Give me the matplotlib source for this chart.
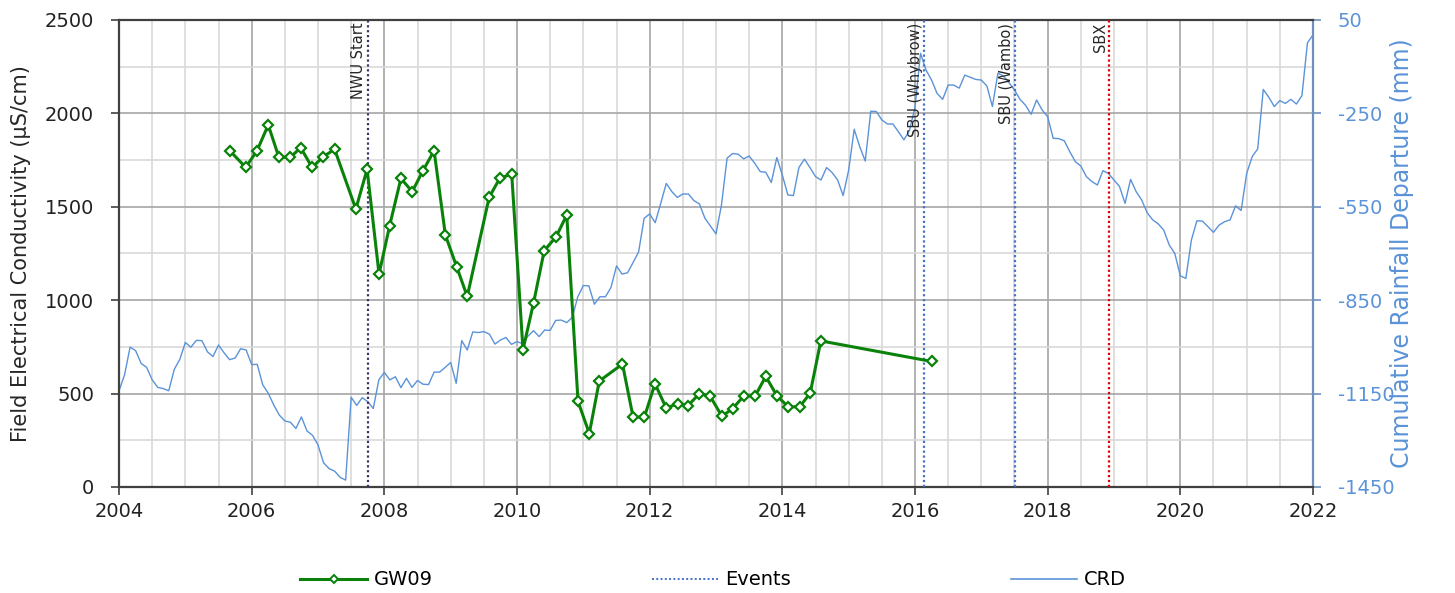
import numpy as np
import matplotlib
matplotlib.use("Agg")
import matplotlib.pyplot as plt
from matplotlib.ticker import MultipleLocator
from matplotlib.lines import Line2D
import matplotlib.transforms as mtransforms

plt.rcParams["axes.unicode_minus"] = False


# GW09 field EC samples (decimal year, uS/cm)
gw09_year = [2005.67, 2005.91, 2006.08, 2006.25, 2006.41, 2006.58, 2006.74, 2006.91,
             2007.08, 2007.25, 2007.57, 2007.74, 2007.92, 2008.08, 2008.25, 2008.42,
             2008.58, 2008.75, 2008.92, 2009.09, 2009.25, 2009.58, 2009.74, 2009.92,
             2010.09, 2010.25, 2010.41, 2010.59, 2010.75, 2010.92, 2011.09, 2011.24,
             2011.59, 2011.75, 2011.92, 2012.08, 2012.25, 2012.42, 2012.58, 2012.75,
             2012.91, 2013.09, 2013.25, 2013.42, 2013.59, 2013.75, 2013.92, 2014.09,
             2014.26, 2014.42, 2014.58, 2016.25]
gw09_ec = [1800, 1711, 1800, 1938, 1765, 1765, 1816, 1711,
           1768, 1808, 1488, 1700, 1140, 1399, 1652, 1581,
           1692, 1800, 1349, 1179, 1020, 1551, 1652, 1676,
           735, 986, 1265, 1340, 1456, 458, 286, 567,
           658, 374, 374, 553, 422, 446, 436, 500,
           487, 378, 420, 487, 487, 592, 487, 429,
           429, 502, 782, 672]

# cumulative rainfall departure, monthly from Jan 2004 to Jan 2022 (mm)
crd_start = 2004.0
crd_mm = [-1141, -1090, -1001, -1012, -1053, -1066, -1106, -1130, -1134, -1141, -1072, -1040,
          -986, -1001, -979, -980, -1016, -1031, -994, -1019, -1041, -1036, -1006, -1010,
          -1057, -1056, -1122, -1149, -1187, -1219, -1238, -1242, -1262, -1225, -1270, -1284,
          -1315, -1372, -1391, -1399, -1419, -1428, -1162, -1188, -1163, -1176, -1198, -1106,
          -1082, -1106, -1096, -1131, -1101, -1130, -1108, -1120, -1121, -1081, -1081, -1066,
          -1050, -1117, -980, -1010, -952, -954, -951, -959, -991, -978, -970, -992,
          -983, -990, -965, -948, -967, -946, -947, -915, -914, -922, -905, -839,
          -803, -804, -863, -839, -839, -809, -740, -766, -762, -729, -695, -587,
          -573, -601, -539, -475, -501, -520, -509, -509, -530, -541, -587, -612,
          -637, -543, -394, -379, -381, -396, -387, -410, -437, -439, -472, -392,
          -448, -512, -514, -424, -397, -424, -453, -464, -424, -440, -464, -514,
          -432, -301, -357, -403, -243, -244, -271, -284, -284, -309, -335, -305,
          -230, -57, -111, -143, -186, -205, -159, -159, -169, -127, -134, -141,
          -143, -162, -228, -121, -130, -151, -175, -205, -224, -253, -207, -239,
          -261, -330, -331, -338, -373, -405, -419, -453, -469, -480, -434, -443,
          -464, -485, -539, -462, -501, -528, -569, -592, -605, -625, -673, -700,
          -772, -780, -657, -595, -596, -614, -632, -609, -598, -592, -547, -562,
          -443, -389, -364, -173, -198, -228, -209, -218, -205, -220, -193, -23,
          2]

crd_ticks = [-1450, -1150, -850, -550, -250, 50]
crd_minor = [-1300, -1000, -700, -400, -100]

event_names = ["NWU Start", "SBU (Whybrow)", "SBU (Wambo)", "SBX"]
event_year = [2007.75, 2016.14, 2017.51, 2018.93]
event_colors = ["#3b3366", "#4472c4", "#4472c4", "#e00000"]

GREEN = "#0a820a"
BLUE = "#5b93d8"
DARK = "#404040"

crd_year = crd_start + np.arange(len(crd_mm)) / 12.0

fig = plt.figure(figsize=(14.55, 5.93), dpi=100)
ax_crd = fig.add_axes([0.0818, 0.1788, 0.8206, 0.7875])
ax_ec = ax_crd.twinx()

# bottom layer: grid + CRD (right axis)
ax_crd.set_xlim(2004, 2022)
ax_crd.set_ylim(-1450, 50)
ax_crd.xaxis.set_major_locator(MultipleLocator(2))
ax_crd.xaxis.set_minor_locator(MultipleLocator(0.5))
ax_crd.set_yticks(crd_ticks)
ax_crd.set_yticks(crd_minor, minor=True)
ax_crd.grid(which="major", color="#a6a6a6", linewidth=1.2)
ax_crd.grid(which="minor", color="#d9d9d9", linewidth=1.2)
ax_crd.set_axisbelow(True)
ax_crd.plot(crd_year, crd_mm, color=BLUE, linewidth=1.0, zorder=2)

ax_crd.yaxis.tick_right()
ax_crd.yaxis.set_label_position("right")
ax_crd.set_ylabel("Cumulative Rainfall Departure (mm)", color=BLUE, fontsize=17, labelpad=-3)
ax_crd.tick_params(axis="y", which="major", colors="#6f8fbf", labelcolor=BLUE,
                   labelsize=14, length=6, width=1.2, pad=12)
ax_crd.tick_params(axis="y", which="minor", length=0)
ax_crd.tick_params(axis="x", which="major", colors=DARK, labelcolor="#222222",
                   labelsize=14, length=6, width=1.2, pad=5)
ax_crd.tick_params(axis="x", which="minor", length=0)
ax_crd.set_xticks(np.arange(2004, 2023, 2))
ax_crd.set_xticklabels([str(y) for y in range(2004, 2023, 2)])

for side in ["top", "bottom", "left"]:
    ax_crd.spines[side].set_color(DARK)
    ax_crd.spines[side].set_linewidth(1.6)
ax_crd.spines["right"].set_color("#6f8fbf")
ax_crd.spines["right"].set_linewidth(1.6)

# top layer: EC (left axis) and events
ax_ec.yaxis.tick_left()
ax_ec.yaxis.set_label_position("left")
ax_ec.set_ylim(0, 2500)
ax_ec.yaxis.set_major_locator(MultipleLocator(500))
ax_ec.tick_params(axis="y", colors=DARK, labelcolor="#222222", labelsize=14,
                  length=6, width=1.2, pad=12)
ax_ec.set_ylabel("Field Electrical Conductivity (µS/cm)", color="#262626", fontsize=15, labelpad=10)
for side in ax_ec.spines:
    ax_ec.spines[side].set_visible(False)

ax_ec.plot(gw09_year, gw09_ec, color=GREEN, linewidth=2.2, marker="D", markersize=5.5,
           markerfacecolor="white", markeredgecolor=GREEN, markeredgewidth=1.6, zorder=5)

trans = mtransforms.blended_transform_factory(ax_ec.transData, ax_ec.transAxes)
for name, yr, col in zip(event_names, event_year, event_colors):
    ax_ec.axvline(yr, color=col, linestyle=(0, (1, 1.2)), linewidth=1.6, zorder=4)
    ax_ec.annotate(name, xy=(yr, 1.0), xycoords=trans, xytext=(-1, -2),
                   textcoords="offset points", rotation=90, ha="right", va="top",
                   fontsize=10.5, color="#262626", zorder=6)

handles = [
    Line2D([], [], color=GREEN, linewidth=2.2, marker="D", markersize=4.5,
           markerfacecolor="white", markeredgecolor=GREEN, markeredgewidth=1.4),
    Line2D([], [], color="#4472c4", linestyle=(0, (1, 1.2)), linewidth=1.4),
    Line2D([], [], color=BLUE, linewidth=1.2),
]
fig.legend(handles, ["GW09", "Events", "CRD"], loc="center", bbox_to_anchor=(0.49, 0.022),
           ncol=3, frameon=False, fontsize=14, handlelength=3.4, handletextpad=0.35,
           columnspacing=11.3)

fig.savefig("out.png", dpi=100)
